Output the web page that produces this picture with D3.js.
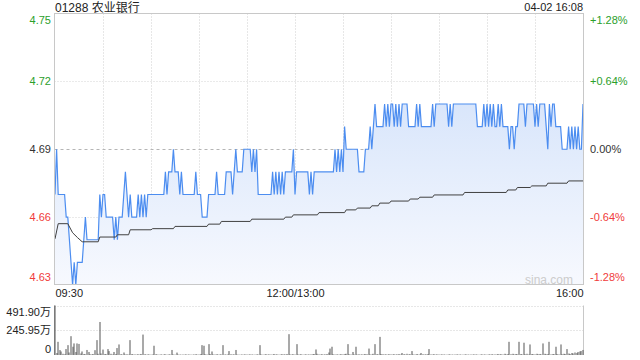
<!DOCTYPE html>
<html>
<head>
<meta charset="utf-8">
<script src="https://cdn.jsdelivr.net/npm/d3@7"></script>
<style>
    body { margin: 0; background: #fff; }
    svg text { font-family: "Liberation Sans", Arial, "Noto Sans CJK SC", sans-serif; }
</style>
</head>
<body>
<div id="chart"></div>
<script>

// ---- data ----
var stockTitle = "01288 农业银行";
var stampText = "04-02 16:08";
var prevClose = 4.69;

var priceTicks = [4.63, 4.66, 4.69, 4.72, 4.75];
var pctLabels = ["-1.28%", "-0.64%", "0.00%", "+0.64%", "+1.28%"];

var timeTicks = [0, 150, 330];
var timeLabels = ["09:30", "12:00/13:00", "16:00"];

var volTicks = [491.9, 245.95, 0];
var volLabels = ["491.90万", "245.95万", "0"];

// minute price as [price, number of minutes]
var priceRuns = [
    [4.67,1],[4.69,1],[4.67,5],[4.66,2],[4.65,1],[4.64,1],[4.63,1],[4.64,1],[4.63,1],[4.64,4],
    [4.65,1],[4.66,1],[4.65,8],[4.67,1],[4.66,1],[4.67,2],[4.66,5],[4.65,1],[4.66,1],[4.65,1],
    [4.66,3],[4.67,1],[4.68,1],[4.67,1],[4.66,1],[4.67,1],[4.66,4],[4.67,1],[4.66,1],[4.67,1],
    [4.66,1],[4.67,1],[4.66,1],[4.67,11],[4.68,1],[4.67,1],[4.68,3],[4.69,1],[4.68,3],[4.67,1],
    [4.68,1],[4.67,8],[4.68,1],[4.67,3],[4.66,4],[4.67,5],[4.68,1],[4.67,5],[4.68,4],[4.67,1],
    [4.68,1],[4.69,1],[4.68,4],[4.69,5],[4.68,1],[4.69,1],[4.68,1],[4.69,1],[4.67,9],[4.68,1],
    [4.67,1],[4.68,1],[4.67,1],[4.68,1],[4.67,1],[4.68,1],[4.67,1],[4.68,5],[4.69,1],[4.67,1],
    [4.68,8],[4.67,1],[4.68,1],[4.67,1],[4.68,13],[4.69,1],[4.68,1],[4.69,1],[4.68,1],[4.69,1],
    [4.68,1],[4.70,1],[4.69,8],[4.68,4],[4.69,3],[4.70,1],[4.69,1],[4.70,1],[4.71,1],[4.70,5],
    [4.71,1],[4.70,1],[4.71,1],[4.70,1],[4.71,2],[4.70,1],[4.71,1],[4.70,1],[4.71,1],[4.70,1],
    [4.71,4],[4.70,5],[4.71,1],[4.70,1],[4.71,1],[4.70,7],[4.71,1],[4.70,1],[4.71,8],[4.70,1],
    [4.71,1],[4.70,1],[4.71,15],[4.70,4],[4.71,1],[4.70,1],[4.71,1],[4.70,1],[4.71,1],[4.70,1],
    [4.71,1],[4.70,2],[4.71,1],[4.70,1],[4.71,1],[4.70,4],[4.69,1],[4.70,2],[4.69,1],[4.70,2],
    [4.71,4],[4.70,1],[4.71,5],[4.70,1],[4.71,1],[4.70,1],[4.71,4],[4.70,1],[4.69,1],[4.71,1],
    [4.70,1],[4.71,2],[4.70,4],[4.69,4],[4.70,1],[4.69,1],[4.70,1],[4.69,1],[4.70,1],[4.69,1],
    [4.70,1],[4.69,2],[4.71,1]
];

// average price line, breakpoints (minute, price)
var avgMinutes = [0,2,8,11,14,17,27,28,38,39,46,47,60,61,74,75,95,96,103,104,122,123,143,144,148,149,
    164,165,181,182,188,189,197,198,202,203,209,210,221,222,227,228,236,237,255,256,282,283,288,289,
    297,298,307,308,320,321,330];
var avgValues = [4.6504,4.6571,4.6571,4.6531,4.6510,4.6491,4.6491,4.6512,4.6512,4.6522,4.6522,4.6544,
    4.6544,4.6549,4.6549,4.6559,4.6559,4.6569,4.6569,4.6581,4.6581,4.6591,4.6591,4.6600,4.6600,4.6610,
    4.6610,4.6620,4.6620,4.6632,4.6632,4.6640,4.6640,4.6650,4.6650,4.6662,4.6662,4.6671,4.6671,4.6680,
    4.6680,4.6688,4.6688,4.6698,4.6698,4.6709,4.6709,4.6720,4.6720,4.6731,4.6731,4.6738,4.6738,4.6750,
    4.6750,4.6760,4.6760];

// volume per minute (万股)
var volumes = [
    491.9,20,131,49,35,12,8,59,98,25,187,82,115,30,115,110,15,35,10,8,50,30,8,6,10,48,148,12,328,15,
    54,10,8,59,39,12,6,30,10,69,105,8,5,25,6,8,5,148,10,5,6,4,8,5,10,203,8,4,6,5,
    4,6,92,8,5,4,6,3,5,8,4,6,5,50,6,4,24,5,4,3,5,4,6,3,5,4,3,5,8,4,
    5,10,98,92,8,5,108,10,35,6,5,8,4,5,6,98,5,4,6,39,8,5,6,50,5,4,3,5,4,6,
    5,4,6,5,3,4,6,5,98,6,4,5,8,4,6,5,4,10,5,6,4,5,8,6,5,10,207,6,5,8,
    5,108,6,5,8,4,5,6,4,5,6,8,10,55,12,6,5,8,4,6,10,25,64,82,8,5,6,4,5,8,
    6,10,12,108,8,5,30,6,82,5,8,4,6,5,10,8,64,6,5,12,108,8,6,180,10,8,5,6,4,8,
    6,5,8,4,6,10,5,20,8,5,12,6,8,39,6,5,10,4,6,20,8,5,6,10,59,6,5,8,4,6,
    5,4,6,5,3,4,6,5,4,3,5,6,4,5,3,4,5,6,4,3,5,4,6,5,4,3,5,6,4,5,
    4,6,5,8,4,6,5,10,6,8,5,12,6,10,131,8,12,6,10,8,131,10,6,122,8,12,6,105,10,8,
    6,12,8,10,6,115,12,8,10,131,6,10,8,82,10,6,105,8,12,10,59,15,10,20,15,25,20,30,35,40,50
];


/*
 * IntradayChart - minute price panel with a volume panel below
 */
IntradayChart = function(_parentElement){
    this.parentElement = _parentElement;
    this.displayData = [];

    this.initVis();
}

IntradayChart.prototype.initVis = function(){
    var vis = this;

    vis.width = 640;
    vis.height = 360;
    vis.plot = {left: 54.5, right: 583.5, top: 13.5, bottom: 284.5};
    vis.vol = {top: 305.5, bottom: 355};

    vis.svg = d3.select("#" + vis.parentElement).append("svg")
        .attr("width", vis.width)
        .attr("height", vis.height);

    vis.x = d3.scaleLinear()
        .domain([0, 330])
        .range([55, 583]);

    vis.y = d3.scaleLinear()
        .domain([4.63, 4.75])
        .range([285, 13.5]);

    vis.yVol = d3.scaleLinear()
        .domain([0, 491.9])
        .range([vis.vol.bottom, vis.vol.top]);

    // area gradient
    var grad = vis.svg.append("defs").append("linearGradient")
        .attr("id", "areaFill")
        .attr("x1", 0).attr("y1", 0).attr("x2", 0).attr("y2", 1);
    grad.append("stop").attr("offset", "0%").attr("stop-color", "#d9e6fb");
    grad.append("stop").attr("offset", "100%").attr("stop-color", "#f7f9fe");

    vis.wrangleData();
}

IntradayChart.prototype.wrangleData = function(){
    var vis = this;

    // expand the runs into one price per minute
    vis.displayData = [];
    priceRuns.forEach(function(r){
        for (var k = 0; k < r[1]; k++) vis.displayData.push(r[0]);
    });

    vis.avgData = avgMinutes.map(function(m, i){ return {m: m, v: avgValues[i]}; });

    vis.updateVis();
}

IntradayChart.prototype.updateVis = function(){
    var vis = this;
    var p = vis.plot;

    function priceColor(v){
        if (v > prevClose + 1e-9) return "#2ba02b";
        if (v < prevClose - 1e-9) return "#f03c3c";
        return "#333";
    }

    // vertical grid (every 30 minutes)
    vis.svg.append("g").selectAll("line")
        .data(d3.range(30, 330, 30))
        .enter().append("line")
        .attr("x1", function(d){ return Math.round(vis.x(d)) + 0.5; })
        .attr("x2", function(d){ return Math.round(vis.x(d)) + 0.5; })
        .attr("y1", p.top).attr("y2", p.bottom)
        .attr("stroke", "#cfcfcf")
        .attr("stroke-dasharray", "1,2");

    // horizontal grid
    vis.svg.append("g").selectAll("line")
        .data(priceTicks.filter(function(d){ return d !== 4.63 && d !== 4.75; }))
        .enter().append("line")
        .attr("x1", p.left).attr("x2", p.right)
        .attr("y1", function(d){ return Math.round(vis.y(d)) + 0.5; })
        .attr("y2", function(d){ return Math.round(vis.y(d)) + 0.5; })
        .attr("stroke", function(d){ return d === prevClose ? "#b5b5b5" : "#d5d5d5"; })
        .attr("stroke-dasharray", function(d){ return d === prevClose ? "3,3" : "1,2"; });

    // price area + line
    var area = d3.area()
        .x(function(d, i){ return vis.x(i); })
        .y0(vis.y(4.63))
        .y1(function(d){ return vis.y(d); });

    var line = d3.line()
        .x(function(d, i){ return vis.x(i); })
        .y(function(d){ return vis.y(d); });

    vis.svg.append("path")
        .datum(vis.displayData)
        .attr("d", area)
        .attr("fill", "url(#areaFill)");

    vis.svg.append("text")
        .attr("x", 573).attr("y", 284)
        .attr("text-anchor", "end")
        .attr("font-size", 12)
        .attr("fill", "#cccccc")
        .text("sina.com");

    vis.svg.append("path")
        .datum(vis.displayData)
        .attr("d", line)
        .attr("fill", "none")
        .attr("stroke", "#4c8df0")
        .attr("stroke-width", 1.2);

    // average price
    vis.svg.append("path")
        .datum(vis.avgData)
        .attr("d", d3.line()
            .x(function(d){ return vis.x(d.m); })
            .y(function(d){ return vis.y(d.v); }))
        .attr("fill", "none")
        .attr("stroke", "#404040")
        .attr("stroke-width", 1);

    // frame
    vis.svg.append("rect")
        .attr("x", p.left).attr("y", p.top)
        .attr("width", p.right - p.left).attr("height", p.bottom - p.top)
        .attr("fill", "none")
        .attr("stroke", "#c8c8c8");

    // left price axis
    var clampY = function(lo, hi, scale){
        return function(d){ var py = scale(d); return Math.max(lo, Math.min(hi, py)) - py; };
    };

    vis.yAxis = d3.axisLeft(vis.y)
        .tickValues(priceTicks)
        .tickSize(0).tickPadding(0)
        .tickFormat(d3.format(".2f"));

    var gy = vis.svg.append("g")
        .attr("transform", "translate(51,0)")
        .call(vis.yAxis)
        .attr("font-size", 11);
    gy.select(".domain").remove();
    gy.selectAll("text")
        .attr("y", clampY(20, 277, vis.y))
        .attr("fill", priceColor);

    // right percent axis
    vis.pctAxis = d3.axisRight(vis.y)
        .tickValues(priceTicks)
        .tickSize(0).tickPadding(0)
        .tickFormat(function(d, i){ return pctLabels[i]; });

    var gp = vis.svg.append("g")
        .attr("transform", "translate(590,0)")
        .call(vis.pctAxis)
        .attr("font-size", 11);
    gp.select(".domain").remove();
    gp.selectAll("text")
        .attr("y", clampY(20, 277, vis.y))
        .attr("fill", priceColor);

    // time axis
    vis.xAxis = d3.axisBottom(vis.x)
        .tickValues(timeTicks)
        .tickSize(0).tickPadding(0)
        .tickFormat(function(d, i){ return timeLabels[i]; });

    var gx = vis.svg.append("g")
        .attr("transform", "translate(0,289)")
        .call(vis.xAxis)
        .attr("font-size", 11);
    gx.select(".domain").remove();
    gx.selectAll("text")
        .attr("fill", "#222")
        .attr("text-anchor", function(d, i){ return i === 0 ? "start" : (i === timeTicks.length - 1 ? "end" : "middle"); });

    // title and stamp
    vis.svg.append("text")
        .attr("x", 55).attr("y", 12)
        .attr("font-size", 12)
        .attr("fill", "#222")
        .text(stockTitle);

    vis.svg.append("text")
        .attr("x", 583).attr("y", 11)
        .attr("text-anchor", "end")
        .attr("font-size", 11)
        .attr("fill", "#222")
        .text(stampText);

    // ---- volume panel ----
    vis.svg.append("g").selectAll("line")
        .data([491.9, 245.95])
        .enter().append("line")
        .attr("x1", p.left).attr("x2", p.right)
        .attr("y1", function(d){ return Math.round(vis.yVol(d)) + 0.5; })
        .attr("y2", function(d){ return Math.round(vis.yVol(d)) + 0.5; })
        .attr("stroke", "#cfcfcf")
        .attr("stroke-dasharray", "1,2");

    vis.svg.append("line")
        .attr("x1", p.right).attr("x2", p.right)
        .attr("y1", vis.vol.top).attr("y2", vis.vol.bottom)
        .attr("stroke", "#c8c8c8");
    vis.svg.append("line")
        .attr("x1", p.left).attr("x2", p.left)
        .attr("y1", vis.vol.top).attr("y2", vis.vol.bottom)
        .attr("stroke", "#a0a0a0");

    vis.svg.append("g").selectAll("rect")
        .data(volumes)
        .enter().append("rect")
        .attr("x", function(d, i){ return Math.round(vis.x(i)) - 0.5; })
        .attr("width", 1)
        .attr("y", function(d){ return vis.yVol(d); })
        .attr("height", function(d){ return vis.yVol(0) - vis.yVol(d); })
        .attr("fill", "#555");

    vis.volAxis = d3.axisLeft(vis.yVol)
        .tickValues(volTicks)
        .tickSize(0).tickPadding(0)
        .tickFormat(function(d, i){ return volLabels[i]; });

    var gv = vis.svg.append("g")
        .attr("transform", "translate(51,0)")
        .call(vis.volAxis)
        .attr("font-size", 11);
    gv.select(".domain").remove();
    gv.selectAll("text")
        .attr("y", clampY(311.5, 348.5, vis.yVol))
        .attr("fill", "#222");
}

var chart = new IntradayChart("chart");

</script>
</body>
</html>
